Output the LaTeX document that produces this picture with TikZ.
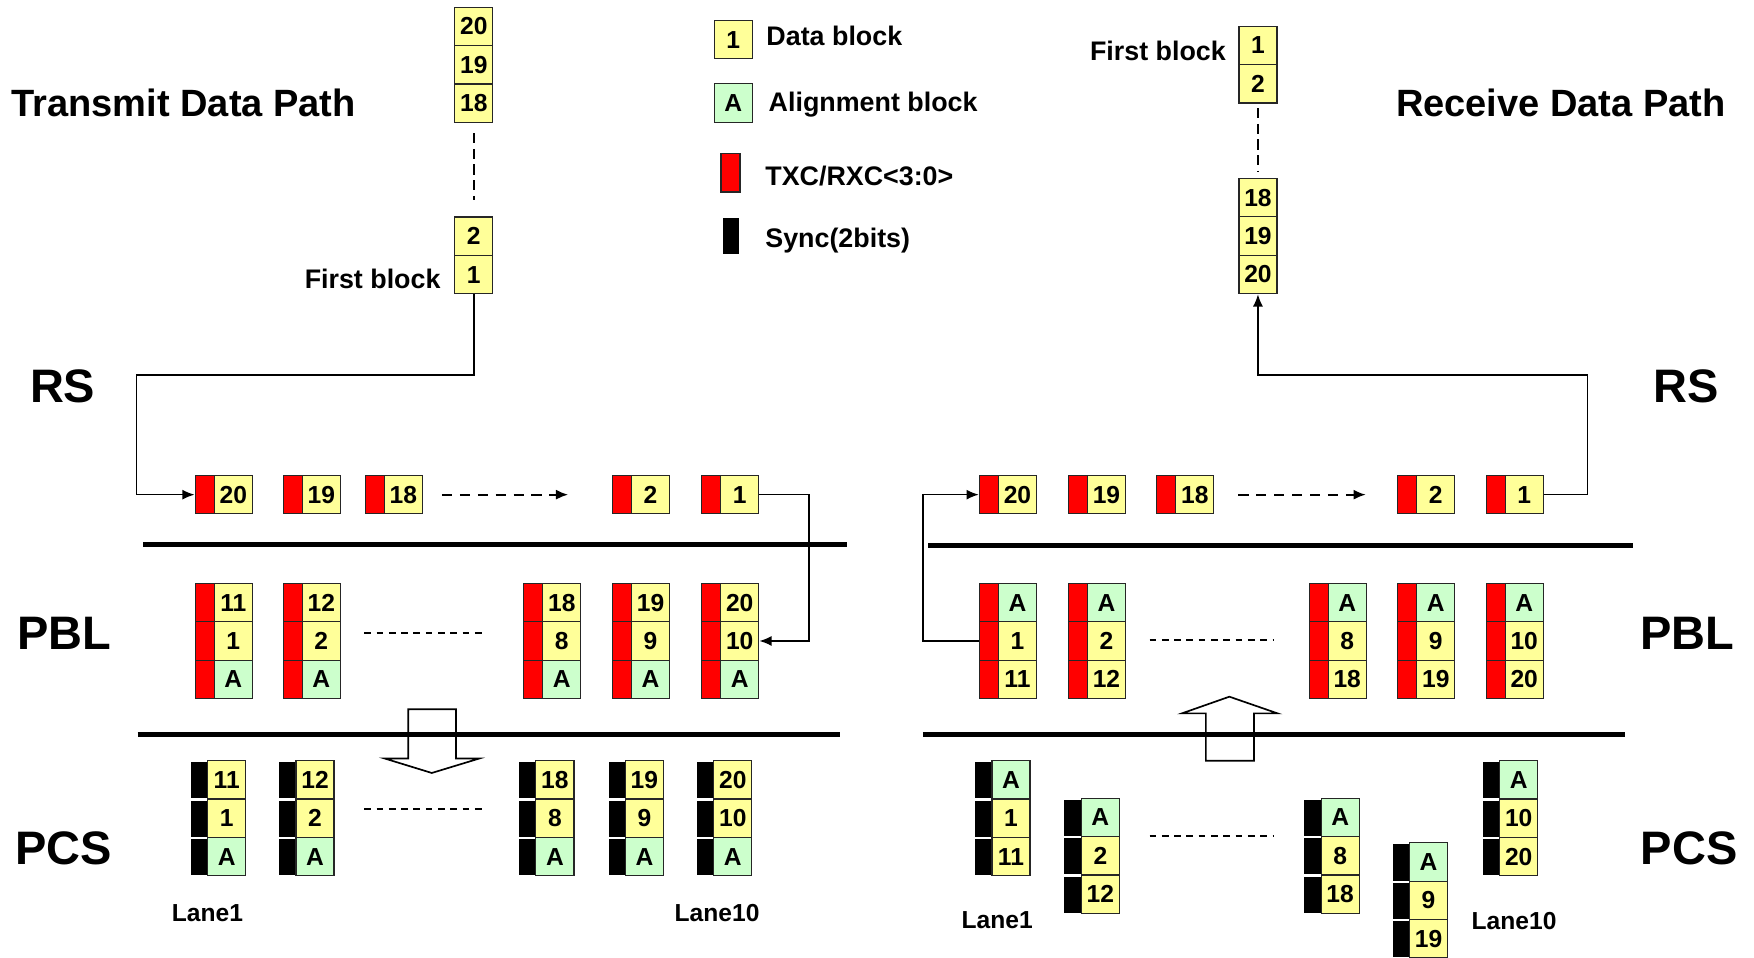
\documentclass[tikz,border=0pt]{standalone}
\usepackage{fontspec}
\setmainfont{Liberation Sans}
\usetikzlibrary{arrows.meta}
\definecolor{dyel}{HTML}{FFFF99}
\definecolor{dgrn}{HTML}{CCFFCC}
\tikzset{
  cellbase/.style={draw=black!85, line width=1.1pt, minimum width=34pt, minimum height=34.3pt,
    inner sep=0pt, anchor=north west, font=\fontsize{22}{24}\selectfont\bfseries},
  yc/.style={cellbase, fill=dyel},
  gc/.style={cellbase, fill=dgrn},
  rbar/.style={draw=black!85, line width=1.1pt, fill=red, minimum width=17pt, minimum height=34.3pt,
    inner sep=0pt, anchor=north west},
  kbar/.style={draw=white, line width=2pt, fill=black, minimum width=18.5pt, minimum height=34.3pt,
    inner sep=0pt, anchor=north west},
  conn/.style={line width=1.5pt, black},
  tip/.style={-{Latex[length=11pt,width=9pt]}},
  sepline/.style={line width=4.5pt, black},
  dsh/.style={line width=1.6pt, dash pattern=on 9pt off 5pt},
  dsharrow/.style={line width=1.8pt, dash pattern=on 9pt off 7pt},
  dotln/.style={line width=1.4pt, dash pattern=on 6pt off 5pt},
  ttl/.style={font=\fontsize{34}{38}\selectfont\bfseries, inner sep=0pt},
  sec/.style={font=\fontsize{42}{46}\selectfont\bfseries, inner sep=0pt},
  lbl/.style={font=\fontsize{24}{28}\selectfont\bfseries, inner sep=0pt},
  lane/.style={font=\fontsize{22}{26}\selectfont\bfseries, inner sep=0pt},
  hollow/.style={draw=black, line width=1.5pt, fill=white},
}
\newcommand{\rcell}[5]{\node[rbar] (#1x) at (#2,#3) {};\node[#4] (#1) at (#2+17,#3) {#5};}
\newcommand{\kcell}[5]{\node[kbar] (#1x) at (#2-1,#3) {};\node[#4] (#1) at (#2+15.5,#3) {#5};}
\newcommand{\rcol}[9]{\rcell{#1a}{#2}{#3}{#4}{#5}\rcell{#1b}{#2}{#3+34.3}{#6}{#7}\rcell{#1c}{#2}{#3+68.6}{#8}{#9}}
\newcommand{\kcol}[9]{\kcell{#1a}{#2}{#3}{#4}{#5}\kcell{#1b}{#2}{#3+34.3}{#6}{#7}\kcell{#1c}{#2}{#3+68.6}{#8}{#9}}
\begin{document}
\begin{tikzpicture}[x=1pt,y=-1pt]
\useasboundingbox (0,0) rectangle (1568,856);
\fill[white] (0,0) rectangle (1568,856);

% titles
\node[ttl, anchor=base west] (ttx) at (10,104.3) {Transmit Data Path};
\node[ttl, anchor=base east] (trx) at (1543,104.3) {Receive Data Path};
% layer labels
\node[sec] (rsl) at (56,345) {RS};
\node[sec] (rsr) at (1507,345) {RS};
\node[sec] (pbll) at (57.5,566) {PBL};
\node[sec] (pblr) at (1508.5,566) {PBL};
\node[sec] (pcsl) at (57,758) {PCS};
\node[sec] (pcsr) at (1510,758) {PCS};

% legend
\node[yc, minimum height=34pt] (lgd) at (638,18) {1};
\node[gc, minimum height=35pt] (lga) at (638,74) {A};
\node[rbar, minimum height=34pt] (lgr) at (644,137) {};
\node[kbar, draw=none, minimum width=15pt, minimum height=32pt] (lgk) at (645,194) {};
\node[lbl, anchor=base west] (lgdt) at (685,40.8) {Data block};
\node[lbl, anchor=base west] (lgat) at (687,99.8) {Alignment block};
\node[lbl, anchor=base west] (lgrt) at (684,165.4) {TXC/RXC<3:0>};
\node[lbl, anchor=base west] (lgkt) at (684,221.4) {Sync(2bits)};

% transmit stack
\node[yc] (t20) at (406,6) {20};
\node[yc] (t19) at (406,40.3) {19};
\node[yc] (t18) at (406,74.6) {18};
\node[yc] (t2) at (406,193.5) {2};
\node[yc] (t1) at (406,227.8) {1};
\draw[dsh, shorten <=9pt, shorten >=15pt] (t18.south) -- (t2.north);
\node[lbl, anchor=base east] (tfb) at (394,257.7) {First block};

% receive stack
\node[yc] (r1) at (1107,23) {1};
\node[yc] (r2) at (1107,57.3) {2};
\node[yc] (r18) at (1107,159) {18};
\node[yc] (r19) at (1107,193.3) {19};
\node[yc] (r20) at (1107,227.6) {20};
\draw[dsh, shorten <=4pt, shorten >=6pt] (r2.south) -- (r18.north);
\node[lbl, anchor=base east] (rfb) at (1096,53.7) {First block};

% hollow arrows
\draw[hollow] (365,634) -- (407.6,634) -- (407.6,678) -- (428.7,678) -- (386,691) -- (343.7,678) -- (365,678) -- cycle;
\draw[hollow] (1078,680) -- (1121,680) -- (1121,637.7) -- (1142,637.7) -- (1099,622.8) -- (1056.6,637.7) -- (1078,637.7) -- cycle;

% separator lines
\draw[sepline] (128,486.6) -- (757,486.6);
\draw[sepline] (123,656.5) -- (751,656.5);
\draw[sepline] (830,487.5) -- (1459.5,487.5);
\draw[sepline] (825,656.5) -- (1453,656.5);

% RS transmit row
\rcell{rl20}{174}{424.5}{yc}{20}
\rcell{rl19}{252.7}{424.5}{yc}{19}
\rcell{rl18}{326}{424.5}{yc}{18}
\rcell{rl2}{547}{424.5}{yc}{2}
\rcell{rl1}{626.7}{424.5}{yc}{1}
\draw[dsharrow, tip, shorten <=17pt, shorten >=39pt] (rl18.east) -- (rl2x.west);

% PBL transmit
\rcol{pl1}{174}{521}{yc}{11}{yc}{1}{gc}{A}
\rcol{pl2}{252.7}{521}{yc}{12}{yc}{2}{gc}{A}
\rcol{pl3}{467.7}{521}{yc}{18}{yc}{8}{gc}{A}
\rcol{pl4}{547}{521}{yc}{19}{yc}{9}{gc}{A}
\rcol{pl5}{626.7}{521}{yc}{20}{yc}{10}{gc}{A}
\draw[dotln] (325.6,566) -- (434.7,566);

% PCS transmit
\kcol{cl1}{169.6}{679.4}{yc}{11}{yc}{1}{gc}{A}
\kcol{cl2}{248.6}{679.4}{yc}{12}{yc}{2}{gc}{A}
\kcol{cl3}{463}{679.4}{yc}{18}{yc}{8}{gc}{A}
\kcol{cl4}{543}{679.4}{yc}{19}{yc}{9}{gc}{A}
\kcol{cl5}{622}{679.4}{yc}{20}{yc}{10}{gc}{A}
\draw[dotln] (325.6,723) -- (434.7,723);
\node[lane] (ln1l) at (185.5,816.5) {Lane1};
\node[lane] (ln10l) at (641,816.5) {Lane10};

% RS receive row
\rcell{rr20}{875}{424.5}{yc}{20}
\rcell{rr19}{954.6}{424.5}{yc}{19}
\rcell{rr18}{1033.5}{424.5}{yc}{18}
\rcell{rr2}{1249}{424.5}{yc}{2}
\rcell{rr1}{1328}{424.5}{yc}{1}
\draw[dsharrow, tip, shorten <=21.5pt, shorten >=28pt] (rr18.east) -- (rr2x.west);

% PBL receive
\rcol{pr1}{875}{521}{gc}{A}{yc}{1}{yc}{11}
\rcol{pr2}{954.6}{521}{gc}{A}{yc}{2}{yc}{12}
\rcol{pr3}{1169.8}{521}{gc}{A}{yc}{8}{yc}{18}
\rcol{pr4}{1249}{521}{gc}{A}{yc}{9}{yc}{19}
\rcol{pr5}{1328}{521}{gc}{A}{yc}{10}{yc}{20}
\draw[dotln] (1027.6,572) -- (1138,572);

% PCS receive
\kcol{cr1}{870.7}{679.4}{gc}{A}{yc}{1}{yc}{11}
\kcol{cr2}{950.6}{713}{gc}{A}{yc}{2}{yc}{12}
\kcol{cr3}{1165}{713}{gc}{A}{yc}{8}{yc}{18}
\kcol{cr4}{1244}{752.9}{gc}{A}{yc}{9}{yc}{19}
\kcol{cr5}{1324.6}{679.4}{gc}{A}{yc}{10}{yc}{20}
\draw[dotln] (1027.6,747.5) -- (1138,747.5);
\node[lane] (ln1r) at (891.5,823) {Lane1};
\node[lane] (ln10r) at (1353.5,823) {Lane10};

% connectors
\coordinate (txa) at (122,335);
\coordinate (txb) at (723,500);
\coordinate (rxa) at (825,500);
\coordinate (rxb) at (1419,335);
\draw[conn, tip] (t1.south) |- (txa) |- (rl20x.west);
\draw[conn, tip] (rl1.east) -| (txb) |- (pl5b.east);
\draw[conn, tip] (pr1bx.west) -| (rxa) |- (rr20x.west);
\draw[conn, tip] (rr1.east) -| (rxb) -| (r20.south);
\end{tikzpicture}
\end{document}
